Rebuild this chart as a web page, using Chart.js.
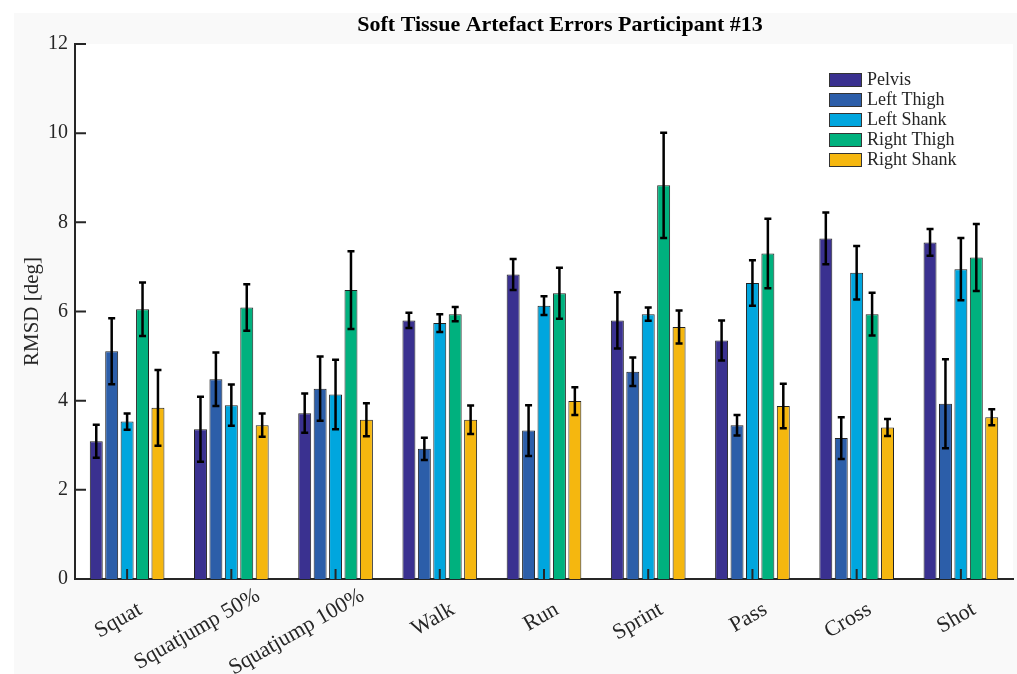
<!DOCTYPE html>
<html>
<head>
<meta charset="utf-8">
<script src="https://cdn.jsdelivr.net/npm/chart.js@4.4.3/dist/chart.umd.min.js"></script>
<style>
  html, body { margin: 0; padding: 0; background: #fff; }
  #wrap { position: relative; width: 1017px; height: 674px; }
  #fig { position: absolute; left: 14px; top: 13px; right: 0; bottom: 0; background: #f9f9f9; }
  #c { position: absolute; left: 0; top: 0; }
</style>
</head>
<body>
<div id="wrap"><div id="fig"></div><canvas id="c" width="1017" height="674"></canvas></div>
<script>
const categories = ["Squat", "Squatjump 50%", "Squatjump 100%", "Walk", "Run", "Sprint", "Pass", "Cross", "Shot"];
const seriesNames = ["Pelvis", "Left Thigh", "Left Shank", "Right Thigh", "Right Shank"];
const seriesColors = ["#3a3190", "#2c5ea9", "#00a6de", "#00b17e", "#f5b70f"];

const pelvis = [3.09, 3.36, 3.72, 5.80, 6.83, 5.80, 5.35, 7.64, 7.55];
const pelvisErr = [0.37, 0.73, 0.44, 0.17, 0.35, 0.63, 0.45, 0.58, 0.30];
const leftThigh = [5.11, 4.48, 4.27, 2.92, 3.33, 4.65, 3.45, 3.16, 3.93];
const leftThighErr = [0.74, 0.60, 0.72, 0.25, 0.57, 0.32, 0.23, 0.47, 1.00];
const leftShank = [3.53, 3.90, 4.14, 5.74, 6.13, 5.94, 6.64, 6.87, 6.95];
const leftShankErr = [0.18, 0.46, 0.78, 0.20, 0.21, 0.15, 0.51, 0.60, 0.70];
const rightThigh = [6.05, 6.09, 6.48, 5.94, 6.41, 8.83, 7.30, 5.94, 7.21];
const rightThighErr = [0.60, 0.52, 0.87, 0.16, 0.57, 1.18, 0.78, 0.48, 0.75];
const rightShank = [3.84, 3.45, 3.57, 3.57, 3.99, 5.65, 3.88, 3.40, 3.63];
const rightShankErr = [0.85, 0.26, 0.37, 0.32, 0.31, 0.37, 0.50, 0.19, 0.18];

const values = [pelvis, leftThigh, leftShank, rightThigh, rightShank];
const errors = [pelvisErr, leftThighErr, leftShankErr, rightThighErr, rightShankErr];

const SERIF = '"Liberation Serif", "Times New Roman", serif';
const INK = "#262626";

// white plot background
const plotBg = {
  id: "plotBg",
  beforeDraw(chart) {
    const { ctx, chartArea: a } = chart;
    ctx.save();
    ctx.fillStyle = "#fff";
    ctx.fillRect(a.left, a.top, a.right - a.left, a.bottom - a.top);
    ctx.restore();
  },
};

// MATLAB-like inward ticks
const inwardTicks = {
  id: "inwardTicks",
  afterDatasetsDraw(chart) {
    const { ctx, chartArea: a, scales } = chart;
    ctx.save();
    ctx.strokeStyle = INK;
    ctx.lineWidth = 2;
    ctx.beginPath();
    scales.y.ticks.forEach((t, i) => {
      const y = scales.y.getPixelForTick(i);
      ctx.moveTo(a.left, y); ctx.lineTo(a.left + 11, y);
    });
    scales.x.ticks.forEach((t, i) => {
      const x = scales.x.getPixelForTick(i);
      ctx.moveTo(x, a.bottom); ctx.lineTo(x, a.bottom - 10);
    });
    ctx.stroke();
    ctx.restore();
  },
};

// rotated category labels (the "%" ones sit higher/further right in the source)
const xLabels = {
  id: "xLabels",
  afterDraw(chart) {
    const { ctx, chartArea: a, scales } = chart;
    ctx.save();
    ctx.fillStyle = INK;
    ctx.font = "22px " + SERIF;
    ctx.textAlign = "right";
    ctx.textBaseline = "middle";
    categories.forEach((lab, i) => {
      const pct = lab.endsWith("%");
      const x = scales.x.getPixelForTick(i) + (pct ? 27 : 13);
      const y = a.bottom + (pct ? 15 : 29);
      ctx.save();
      ctx.translate(x, y);
      ctx.rotate(-Math.PI / 6);
      ctx.fillText(lab, 0, 0);
      ctx.restore();
    });
    ctx.restore();
  },
};

const errorBars = {
  id: "errorBars",
  afterDatasetsDraw(chart) {
    const { ctx, scales } = chart;
    ctx.save();
    ctx.strokeStyle = "#000";
    ctx.lineWidth = 2.5;
    chart.data.datasets.forEach((ds, di) => {
      const meta = chart.getDatasetMeta(di);
      meta.data.forEach((bar, i) => {
        const v = ds.data[i], e = errors[di][i];
        const yTop = scales.y.getPixelForValue(v + e);
        const yBot = scales.y.getPixelForValue(v - e);
        ctx.beginPath();
        ctx.moveTo(bar.x, yTop); ctx.lineTo(bar.x, yBot);
        ctx.moveTo(bar.x - 3.5, yTop); ctx.lineTo(bar.x + 3.5, yTop);
        ctx.moveTo(bar.x - 3.5, yBot); ctx.lineTo(bar.x + 3.5, yBot);
        ctx.stroke();
      });
    });
    ctx.restore();
  },
};

const titleAndLegend = {
  id: "titleAndLegend",
  afterDraw(chart) {
    const { ctx, chartArea: a } = chart;
    ctx.save();
    ctx.fillStyle = "#000";
    ctx.font = "bold 22px " + SERIF;
    ctx.textAlign = "center";
    ctx.textBaseline = "middle";
    ctx.fillText("Soft Tissue Artefact Errors Participant #13", 560, 25);

    const lx = a.right - 184, ly = a.top + 29;
    ctx.font = "18px " + SERIF;
    ctx.textAlign = "left";
    seriesNames.forEach((name, i) => {
      const y = ly + i * 20;
      ctx.fillStyle = seriesColors[i];
      ctx.fillRect(lx, y, 33, 14);
      ctx.strokeStyle = "#333";
      ctx.lineWidth = 1;
      ctx.strokeRect(lx + 0.5, y + 0.5, 32, 13);
      ctx.fillStyle = INK;
      ctx.fillText(name, lx + 38, y + 7.5);
    });
    ctx.restore();
  },
};

Chart.defaults.font.family = SERIF;
Chart.defaults.color = INK;

new Chart(document.getElementById("c"), {
  type: "bar",
  data: {
    labels: categories,
    datasets: seriesNames.map((name, i) => ({
      label: name,
      data: values[i],
      backgroundColor: seriesColors[i],
      borderColor: "#222",
      borderWidth: 1,
      categoryPercentage: 0.74,
      barPercentage: 0.84,
    })),
  },
  options: {
    responsive: false,
    animation: false,
    layout: { padding: { left: 14, top: 44, right: 4, bottom: 0 } },
    plugins: { legend: { display: false }, tooltip: { enabled: false }, title: { display: false } },
    scales: {
      x: {
        grid: { display: false, drawTicks: false },
        border: { color: INK, width: 2 },
        ticks: { display: false, autoSkip: false },
        afterFit: (s) => { s.height = 95; },
      },
      y: {
        min: 0, max: 12,
        grid: { display: false, drawTicks: false },
        border: { color: INK, width: 2 },
        ticks: { stepSize: 2, font: { size: 20 }, color: INK, padding: 7 },
        title: { display: true, text: "RMSD [deg]", font: { size: 21 }, color: INK, padding: { top: 6, bottom: 0 } },
        afterFit: (s) => { s.width = 61; },
      },
    },
  },
  plugins: [plotBg, errorBars, inwardTicks, xLabels, titleAndLegend],
});
</script>
</body>
</html>
